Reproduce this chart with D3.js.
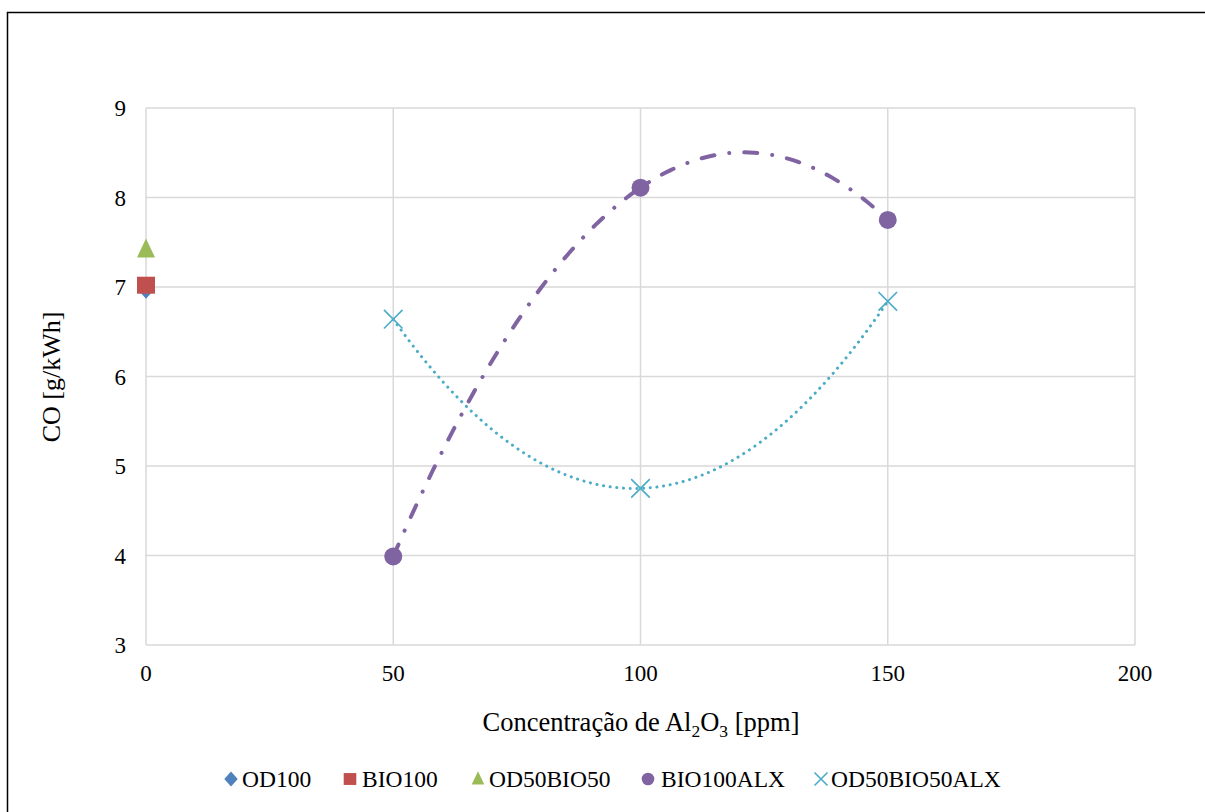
<!DOCTYPE html>
<html>
<head>
<meta charset="utf-8">
<script src="https://cdn.jsdelivr.net/npm/d3@7"></script>
<style>
  body { margin: 0; background: #fff; }
  text { font-family: "Liberation Serif", "Times New Roman", serif; fill: #000; }
</style>
</head>
<body>
<svg id="chart" width="1205" height="812"></svg>
<script>
// data
var xTicks = [0, 50, 100, 150, 200];
var yTicks = [3, 4, 5, 6, 7, 8, 9];
var seriesNames = ["OD100", "BIO100", "OD50BIO50", "BIO100ALX", "OD50BIO50ALX"];
var od100 = [[0, 6.98]];
var bio100 = [[0, 7.02]];
var od50bio50 = [[0, 7.42]];
var bio100alx = [[50, 3.99], [100, 8.11], [150, 7.75]];
var od50bio50alx = [[50, 6.64], [100, 4.75], [150, 6.84]];

var svg = d3.select("#chart");
var W = 1205, H = 812;

// outer frame
svg.append("rect").attr("x", 7.5).attr("y", 12.5).attr("width", W).attr("height", H)
  .attr("fill", "none").attr("stroke", "#000").attr("stroke-width", 1.5);

var x = d3.scaleLinear().domain([0, 200]).range([146, 1135]);
var y = d3.scaleLinear().domain([3, 9]).range([645, 108]);

var grid = svg.append("g");
grid.selectAll("line.h").data(yTicks).enter().append("line")
  .attr("x1", x(0)).attr("x2", x(200))
  .attr("y1", function (d) { return y(d); }).attr("y2", function (d) { return y(d); })
  .attr("stroke", "#d9d9d9").attr("stroke-width", 1.5);
grid.selectAll("line.v").data(xTicks).enter().append("line")
  .attr("y1", y(3)).attr("y2", y(9))
  .attr("x1", function (d) { return x(d); }).attr("x2", function (d) { return x(d); })
  .attr("stroke", "#d9d9d9").attr("stroke-width", 1.5);

// tick labels
svg.append("g").selectAll("text").data(yTicks).enter().append("text")
  .attr("x", 126).attr("y", function (d) { return y(d) + 8; })
  .attr("text-anchor", "end").style("font-size", "23px")
  .text(function (d) { return d; });
svg.append("g").selectAll("text").data(xTicks).enter().append("text")
  .attr("x", function (d) { return x(d); }).attr("y", 681)
  .attr("text-anchor", "middle").style("font-size", "23px")
  .text(function (d) { return d; });

// axis titles
var xt = svg.append("text").attr("x", 641).attr("y", 731).attr("text-anchor", "middle")
  .style("font-size", "26.5px");
xt.append("tspan").text("Concentração de Al");
xt.append("tspan").attr("dy", 6).style("font-size", "17.5px").text("2");
xt.append("tspan").attr("dy", -6).text("O");
xt.append("tspan").attr("dy", 6).style("font-size", "17.5px").text("3");
xt.append("tspan").attr("dy", -6).text(" [ppm]");

svg.append("text").attr("transform", "translate(60,377) rotate(-90)")
  .attr("text-anchor", "middle").style("font-size", "26px").text("CO [g/kWh]");

// quadratic trendline through the data (polynomial order 2)
function quadFit(pts) {
  var sx = [0, 0, 0, 0, 0], sxy = [0, 0, 0];
  pts.forEach(function (p) {
    for (var k = 0; k < 5; k++) sx[k] += Math.pow(p[0], k);
    for (var k = 0; k < 3; k++) sxy[k] += Math.pow(p[0], k) * p[1];
  });
  var A = [[sx[0], sx[1], sx[2], sxy[0]], [sx[1], sx[2], sx[3], sxy[1]], [sx[2], sx[3], sx[4], sxy[2]]];
  for (var i = 0; i < 3; i++) {
    for (var j = i + 1; j < 3; j++) {
      var f = A[j][i] / A[i][i];
      for (var k = i; k < 4; k++) A[j][k] -= f * A[i][k];
    }
  }
  var c = [0, 0, 0];
  for (var i = 2; i >= 0; i--) {
    var s = A[i][3];
    for (var k = i + 1; k < 3; k++) s -= A[i][k] * c[k];
    c[i] = s / A[i][i];
  }
  var x0 = d3.min(pts, function (p) { return p[0]; }), x1 = d3.max(pts, function (p) { return p[0]; });
  return d3.range(x0, x1 + 0.01, 1).map(function (t) { return [t, c[0] + c[1] * t + c[2] * t * t]; });
}

var line = d3.line().x(function (d) { return x(d[0]); }).y(function (d) { return y(d[1]); });

svg.append("path").attr("d", line(quadFit(od50bio50alx)))
  .attr("fill", "none").attr("stroke", "#4BACC6").attr("stroke-width", 3)
  .attr("stroke-linecap", "round").attr("stroke-dasharray", "0.1,6.6");
svg.append("path").attr("d", line(quadFit(bio100alx)))
  .attr("fill", "none").attr("stroke", "#8064A2").attr("stroke-width", 4)
  .attr("stroke-linecap", "round").attr("stroke-dasharray", "13,15,0.1,15");

// markers
var colors = { OD100: "#4F81BD", BIO100: "#C0504D", OD50BIO50: "#9BBB59", BIO100ALX: "#8064A2", OD50BIO50ALX: "#4BACC6" };
function marker(g, name, cx, cy, s) {
  var c = colors[name];
  if (name == "OD100") {
    g.append("path").attr("d", "M" + cx + "," + (cy - 10 * s) + "L" + (cx + 9 * s) + "," + cy + "L" + cx + "," + (cy + 10 * s) + "L" + (cx - 9 * s) + "," + cy + "Z").attr("fill", c);
  } else if (name == "BIO100") {
    g.append("rect").attr("x", cx - 9 * s).attr("y", cy - 8.5 * s).attr("width", 18 * s).attr("height", 17 * s).attr("fill", c);
  } else if (name == "OD50BIO50") {
    g.append("path").attr("d", "M" + cx + "," + (cy - 11 * s) + "L" + (cx + 9 * s) + "," + (cy + 8 * s) + "L" + (cx - 9 * s) + "," + (cy + 8 * s) + "Z").attr("fill", c);
  } else if (name == "BIO100ALX") {
    g.append("circle").attr("cx", cx).attr("cy", cy).attr("r", 9 * s).attr("fill", c);
  } else {
    var r = 9.3 * s;
    g.append("path").attr("d", "M" + (cx - r) + "," + (cy - r) + "L" + (cx + r) + "," + (cy + r) + "M" + (cx + r) + "," + (cy - r) + "L" + (cx - r) + "," + (cy + r))
      .attr("stroke", c).attr("stroke-width", 1.6).attr("fill", "none");
  }
}

var pts = svg.append("g");
var allSeries = [od100, bio100, od50bio50, bio100alx, od50bio50alx];
allSeries.forEach(function (data, i) {
  data.forEach(function (p) { marker(pts, seriesNames[i], x(p[0]), y(p[1]), 1); });
});

// legend
var legendMarkX = [231, 350, 478, 648, 821];
var legendTextX = [242, 362, 489, 661, 831];
var lg = svg.append("g");
seriesNames.forEach(function (name, i) {
  var s = name == "OD100" ? 0.75 : 0.7;
  marker(lg, name, legendMarkX[i], 779, s);
  lg.append("text").attr("x", legendTextX[i]).attr("y", 787).style("font-size", "23.5px").text(name);
});
</script>
</body>
</html>
